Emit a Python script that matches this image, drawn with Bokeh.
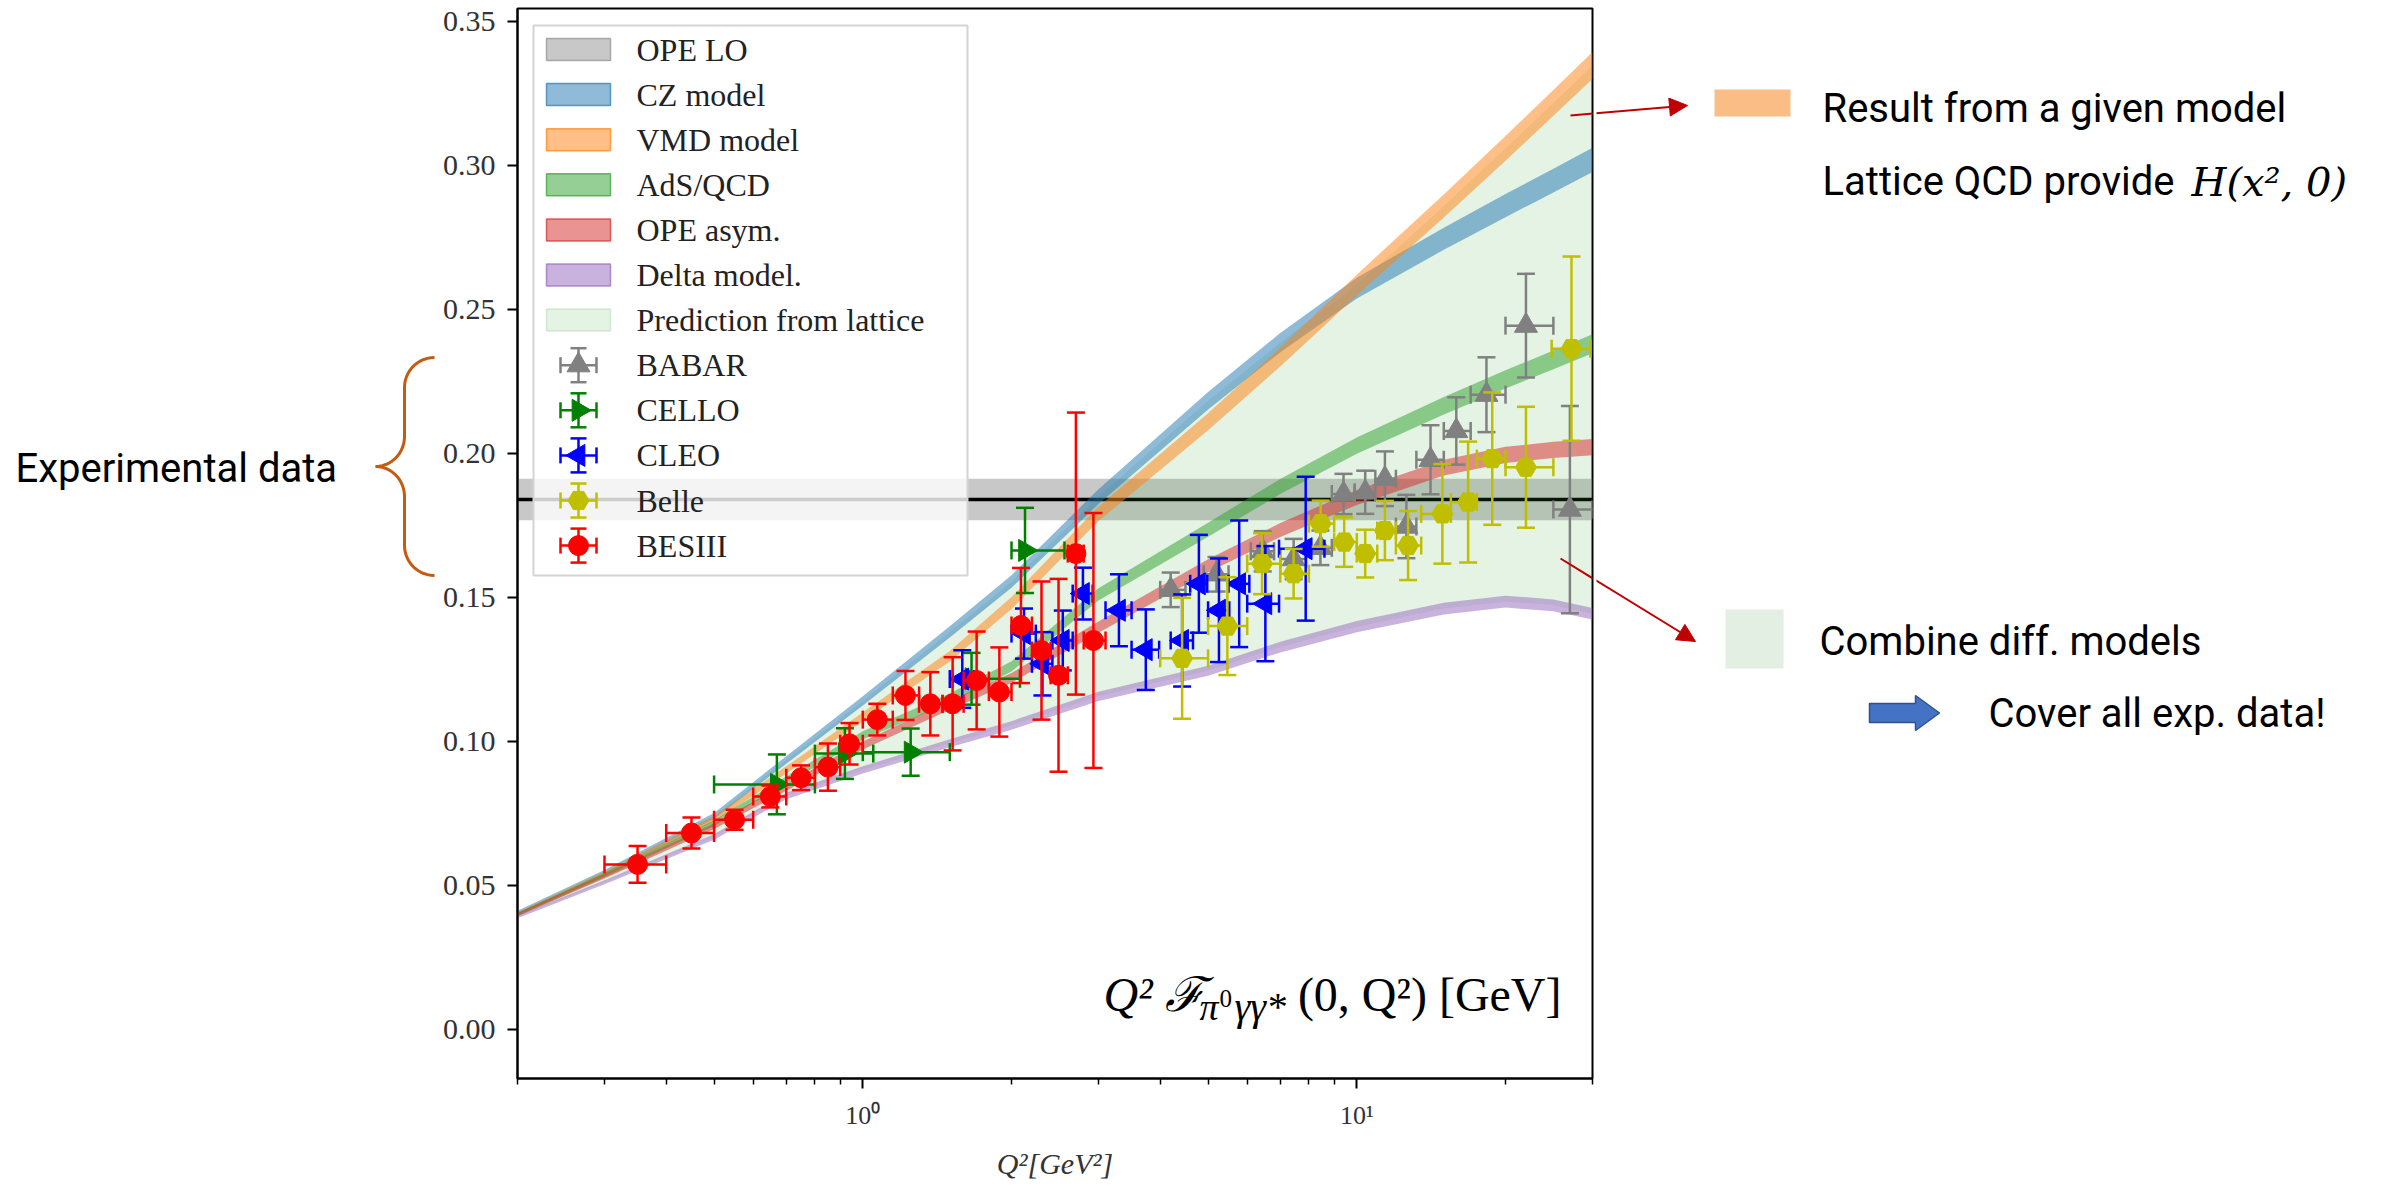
import numpy as np
from bokeh.plotting import figure
from bokeh.layouts import row
from bokeh.models import (Range1d, LinearScale, FixedTicker, NumeralTickFormatter,
                          Arrow, NormalHead, BoxAnnotation, Span)
from bokeh.core.properties import value
from bokeh.embed import file_html
from bokeh.resources import INLINE

# ------------------------------------------------------------------ data
q2_grid     = [0.2, 0.3, 0.5, 0.7, 1.0, 1.5, 2.0, 3.0, 5.0, 7.0, 10.0, 15.0, 20.0, 25.0, 30.0]
cz_model    = [0.0405, 0.0545, 0.0740, 0.0935, 0.1140, 0.1380, 0.1555, 0.1850, 0.2183, 0.2385, 0.2574, 0.2746, 0.2861, 0.2948, 0.3020]
vmd_model   = [0.0400, 0.0540, 0.0730, 0.0900, 0.1085, 0.1295, 0.1480, 0.1790, 0.2110, 0.2335, 0.2585, 0.2860, 0.3060, 0.3218, 0.3348]
ads_qcd     = [0.0398, 0.0535, 0.0715, 0.0865, 0.1020, 0.1150, 0.1260, 0.1510, 0.1735, 0.1885, 0.2027, 0.2166, 0.2257, 0.2325, 0.2381]
ope_asym    = [0.0397, 0.0530, 0.0705, 0.0840, 0.0985, 0.1125, 0.1220, 0.1396, 0.1610, 0.1734, 0.1847, 0.1951, 0.1995, 0.2012, 0.2022]
delta_model = [0.0390, 0.0510, 0.0667, 0.0810, 0.0900, 0.0993, 0.1055, 0.1156, 0.1245, 0.1327, 0.1398, 0.1461, 0.1485, 0.1472, 0.1443]

ope_lo_value = 0.184
ope_lo_err   = 0.0072

babar_q2  = [4.2, 5.2, 6.45, 7.45, 8.44, 9.4, 10.4, 11.4, 12.6, 14.1, 15.9, 18.3, 22.0, 27.0]
babar_val = [0.1526, 0.1580, 0.1660, 0.1633, 0.1672, 0.1859, 0.1865, 0.1912, 0.1746, 0.1978, 0.2078, 0.2204, 0.2444, 0.1805]
babar_err = [0.0060, 0.0060, 0.0070, 0.0070, 0.0060, 0.0070, 0.0075, 0.0095, 0.0110, 0.0120, 0.0117, 0.0130, 0.0180, 0.0360]
babar_lo  = [4.0, 4.9, 6.1, 7.0, 8.0, 8.9, 9.9, 10.9, 12.0, 13.2, 15.0, 17.0, 20.0, 25.0]
babar_hi  = [4.5, 5.5, 6.8, 7.9, 8.9, 9.9, 10.9, 12.0, 13.2, 15.0, 17.0, 20.0, 25.0, 30.0]

cello_q2  = [0.67, 0.92, 1.25, 1.66, 2.13]
cello_val = [0.0850, 0.0957, 0.0962, 0.1217, 0.1663]
cello_err = [0.0104, 0.0088, 0.0082, 0.0090, 0.0148]
cello_lo  = [0.50, 0.80, 1.00, 1.52, 2.00]
cello_hi  = [0.80, 1.05, 1.50, 2.08, 2.56]

cleo_q2  = [1.59, 2.12, 2.31, 2.54, 2.79, 3.30, 3.74, 4.43, 4.79, 5.26, 5.78, 6.53, 7.88]
cleo_val = [0.1216, 0.1374, 0.1269, 0.1350, 0.1513, 0.1455, 0.1318, 0.1350, 0.1547, 0.1455, 0.1547, 0.1478, 0.1669]
cleo_err = [0.0100, 0.0087, 0.0110, 0.0104, 0.0090, 0.0125, 0.0140, 0.0160, 0.0170, 0.0180, 0.0220, 0.0200, 0.0250]
cleo_lo  = [1.50, 2.00, 2.20, 2.42, 2.66, 3.10, 3.50, 4.20, 4.60, 5.00, 5.50, 6.00, 6.96]
cleo_hi  = [1.68, 2.24, 2.42, 2.66, 2.92, 3.50, 3.98, 4.66, 4.98, 5.52, 6.06, 6.96, 8.60]

belle_q2  = [4.43, 5.47, 6.43, 7.45, 8.45, 9.43, 10.4, 11.4, 12.7, 14.9, 16.8, 18.8, 22.0, 27.2]
belle_val = [0.1288, 0.1400, 0.1617, 0.1582, 0.1756, 0.1692, 0.1652, 0.1732, 0.1680, 0.1790, 0.1831, 0.1982, 0.1952, 0.2364]
belle_err = [0.0210, 0.0170, 0.0106, 0.0086, 0.0080, 0.0086, 0.0083, 0.0103, 0.0120, 0.0173, 0.0210, 0.0230, 0.0210, 0.0320]
belle_lo  = [4.0, 5.0, 6.0, 7.0, 8.0, 9.0, 10.0, 11.0, 12.0, 13.5, 15.5, 17.5, 20.0, 24.8]
belle_hi  = [5.0, 6.0, 7.0, 8.0, 9.0, 10.0, 11.0, 12.0, 13.5, 15.5, 17.5, 20.0, 25.0, 29.7]

besiii_q2  = [0.35, 0.45, 0.55, 0.65, 0.75, 0.85, 0.94, 1.07, 1.22, 1.37, 1.52, 1.70, 1.89, 2.09, 2.30, 2.49, 2.70, 2.93]
besiii_val = [0.0572, 0.0681, 0.0727, 0.0808, 0.0873, 0.0910, 0.0991, 0.1075, 0.1159, 0.1130, 0.1130, 0.1211, 0.1171, 0.1402, 0.1315, 0.1229, 0.1652, 0.1350]
besiii_err = [0.0064, 0.0054, 0.0035, 0.0038, 0.0043, 0.0082, 0.0072, 0.0055, 0.0085, 0.0110, 0.0162, 0.0170, 0.0155, 0.0200, 0.0240, 0.0335, 0.0490, 0.0443]
besiii_lo  = [0.30, 0.40, 0.50, 0.60, 0.70, 0.80, 0.90, 1.00, 1.15, 1.30, 1.45, 1.60, 1.80, 2.00, 2.20, 2.40, 2.60, 2.80]
besiii_hi  = [0.40, 0.50, 0.60, 0.70, 0.80, 0.90, 1.00, 1.15, 1.30, 1.45, 1.60, 1.80, 2.00, 2.20, 2.40, 2.60, 2.80, 3.10]

y_ticks        = [0.00, 0.05, 0.10, 0.15, 0.20, 0.25, 0.30, 0.35]
x_major_ticks  = [1, 10]
x_major_labels = ["10\u2070", "10\u00b9"]
x_minor_ticks  = [0.2, 0.3, 0.4, 0.5, 0.6, 0.7, 0.8, 0.9, 2, 3, 4, 5, 6, 7, 8, 9, 20, 30]

legend_labels = ["OPE LO", "CZ model", "VMD model", "AdS/QCD", "OPE asym.", "Delta model.",
                 "Prediction from lattice", "BABAR", "CELLO", "CLEO", "Belle", "BESIII"]

# ------------------------------------------------------------------ styles / layout
model_colors = ["#1f77b4", "#ff7f0e", "#2ca02c", "#d62728", "#9467bd"]
BAND = 0.014
exp_styles = [  # color, marker, size, angle
    ("#808080", "triangle", 23, 0.0),
    ("#008000", "triangle", 22, -np.pi / 2),
    ("#0000ff", "triangle", 22, np.pi / 2),
    ("#bfbf00", "hex", 21, 0.0),
    ("#ff0000", "circle", 20, 0.0),
]
SERIF = "Liberation Serif"
SANS = "Roboto"
RED = "#c00000"

H = 1186
W_L, W_M, W_R = 438, 1158, 786
FL, FR, FT, FB = 517, 1592, 8, 1078          # main frame edges (page px)

# ------------------------------------------------------------------ main plot
pm = figure(width=W_M, height=H, x_axis_type="log",
            x_range=Range1d(0.2, 30), y_range=Range1d(-0.0172, 0.3546),
            output_backend="svg", toolbar_location=None,
            min_border_left=FL - W_L, min_border_right=W_L + W_M - FR,
            min_border_top=FT, min_border_bottom=H - FB)
pm.extra_x_ranges = {"px": Range1d(FL, FR)}
pm.extra_y_ranges = {"py": Range1d(FB, FT)}
pm.extra_x_scales = {"px": LinearScale()}
pm.extra_y_scales = {"py": LinearScale()}
PX = dict(x_range_name="px", y_range_name="py")

pm.xgrid.visible = False
pm.ygrid.visible = False
pm.outline_line_color = "black"
pm.outline_line_width = 2
pm.outline_line_alpha = 1.0

pm.yaxis.ticker = FixedTicker(ticks=y_ticks)
pm.yaxis.formatter = NumeralTickFormatter(format="0.00")
pm.xaxis.ticker = FixedTicker(ticks=x_major_ticks, minor_ticks=x_minor_ticks)
pm.xaxis.major_label_overrides = dict(zip(x_major_ticks, x_major_labels))
for ax in (pm.xaxis[0], pm.yaxis[0]):
    ax.axis_line_color = "black"
    ax.axis_line_width = 2
    ax.major_tick_line_color = "black"
    ax.major_tick_line_width = 2
    ax.major_tick_in = 0
    ax.major_tick_out = 10
    ax.minor_tick_in = 0
    ax.minor_tick_out = 6
    ax.minor_tick_line_width = 1.5
    ax.minor_tick_line_color = "black"
    ax.major_label_text_font = SERIF
    ax.major_label_text_color = "#333333"
pm.yaxis.minor_tick_line_color = None
pm.yaxis.major_label_text_font_size = "30px"
pm.yaxis.major_label_standoff = 12
pm.xaxis.major_label_text_font_size = "26px"
pm.xaxis.major_label_standoff = 12
pm.xaxis.axis_label = "Q\u00b2[GeV\u00b2]"
pm.xaxis.axis_label_text_font = SERIF
pm.xaxis.axis_label_text_font_style = "italic"
pm.xaxis.axis_label_text_font_size = "30px"
pm.xaxis.axis_label_text_color = "#333333"
pm.xaxis.axis_label_standoff = 14

# OPE LO band + central line
pm.add_layout(BoxAnnotation(bottom=ope_lo_value - ope_lo_err, top=ope_lo_value + ope_lo_err,
                            fill_color="#808080", fill_alpha=0.43, line_alpha=0, level="underlay"))
pm.add_layout(Span(location=ope_lo_value, dimension="width", line_color="black",
                   line_width=3.5, level="underlay"))

# lattice prediction envelope and model bands
models = [cz_model, vmd_model, ads_qcd, ope_asym, delta_model]
env_top = np.max(np.array(models), axis=0)
env_bot = np.min(np.array(models), axis=0)
pm.varea(x=q2_grid, y1=env_bot, y2=env_top, fill_color="#2ca02c", fill_alpha=0.13)
for vals, col in zip(models, model_colors):
    v = np.array(vals)
    pm.varea(x=q2_grid, y1=v * (1 - BAND), y2=v * (1 + BAND), fill_color=col, fill_alpha=0.5)

# experiments
experiments = [
    (babar_q2, babar_val, babar_err, babar_lo, babar_hi),
    (cello_q2, cello_val, cello_err, cello_lo, cello_hi),
    (cleo_q2, cleo_val, cleo_err, cleo_lo, cleo_hi),
    (belle_q2, belle_val, belle_err, belle_lo, belle_hi),
    (besiii_q2, besiii_val, besiii_err, besiii_lo, besiii_hi),
]
for (q2, val, err, lo, hi), (col, mk, sz, ang) in zip(experiments, exp_styles):
    q2 = np.array(q2); val = np.array(val); err = np.array(err)
    lo = np.array(lo); hi = np.array(hi)
    pm.segment(x0=q2, y0=val - err, x1=q2, y1=val + err, line_color=col, line_width=2.5)
    pm.segment(x0=lo, y0=val, x1=hi, y1=val, line_color=col, line_width=2.5)
    pm.scatter(x=np.concatenate([q2, q2]), y=np.concatenate([val - err, val + err]),
               marker="dash", size=18, line_color=col, line_width=2.5)
    pm.scatter(x=np.concatenate([lo, hi]), y=np.concatenate([val, val]),
               marker="dash", angle=np.pi / 2, size=18, line_color=col, line_width=2.5)
    pm.scatter(x=q2, y=val, marker=mk, angle=ang, size=sz, fill_color=col, line_color=col)

# legend, drawn in page-pixel space inside the frame
LEG = dict(level="annotation", **PX)
pm.quad(left=[533], right=[967], top=[25], bottom=[575], fill_color="white", fill_alpha=0.8,
        line_color="#d4d4d4", line_width=2, **LEG)
row_y = [49 + 45.1 * i for i in range(len(legend_labels))]
patch_cols = ["#808080"] + model_colors + ["#2ca02c"]
patch_alpha = [0.43, 0.5, 0.5, 0.5, 0.5, 0.5, 0.13]
for i, (c, a) in enumerate(zip(patch_cols, patch_alpha)):
    cy = row_y[i]
    pm.quad(left=[546], right=[610], top=[cy - 11], bottom=[cy + 11], fill_color=c, fill_alpha=a,
            line_color=c, line_alpha=min(1.0, a * 1.4), line_width=1.5, **LEG)
for j, (col, mk, sz, ang) in enumerate(exp_styles):
    cy = row_y[7 + j]
    pm.segment(x0=[578], y0=[cy - 17], x1=[578], y1=[cy + 17], line_color=col, line_width=2.5, **LEG)
    pm.segment(x0=[560], y0=[cy], x1=[596], y1=[cy], line_color=col, line_width=2.5, **LEG)
    pm.scatter(x=[578, 578], y=[cy - 17, cy + 17], marker="dash", size=16, line_color=col, line_width=2.5, **LEG)
    pm.scatter(x=[560, 596], y=[cy, cy], marker="dash", angle=np.pi / 2, size=16, line_color=col, line_width=2.5, **LEG)
    pm.scatter(x=[578], y=[cy], marker=mk, angle=ang, size=sz, fill_color=col, line_color=col, **LEG)
pm.text(x=[636] * len(legend_labels), y=row_y, text=legend_labels, text_font=value(SERIF),
        text_font_size="32px", text_baseline="middle", text_color="#222222", **LEG)


def lab(fig, x, y, text, size, font=SERIF, style="normal", align="left", color="black", **kw):
    fig.text(x=[x], y=[y], text=[text], text_font=value(font), text_font_size=size,
             text_font_style=style, text_align=align, text_baseline="middle",
             text_color=color, level="annotation", **kw)

# quantity label inside the frame (y = visual middle of each text run)
lab(pm, 1103, 994, "Q\u00b2 \u2131", "48px", style="italic", **PX)
lab(pm, 1199, 1006, "\u03c0", "38px", style="italic", **PX)
lab(pm, 1219, 998, "0", "25px", **PX)
lab(pm, 1234, 1006, "\u03b3\u03b3*", "40px", style="italic", **PX)
lab(pm, 1561, 994, "(0, Q\u00b2) [GeV]", "48px", align="right", **PX)

# start of the two pointer arrows (inside the frame)
pm.segment(x0=[1570, 1560], y0=[115, 558], x1=[1687, 1695], y1=[105, 641],
           line_color=RED, line_width=2, **PX)

# ------------------------------------------------------------------ side panels
def side_panel(width, x0):
    f = figure(width=width, height=H, x_range=Range1d(x0, x0 + width),
               output_backend="svg", toolbar_location=None, min_border=0,
               x_axis_location=None, y_axis_location=None)
    try:
        f.frame_align = False
        f.y_range = Range1d(H, 0)
    except Exception:
        f.y_range = Range1d(FB, FT)
    f.xgrid.visible = False
    f.ygrid.visible = False
    f.outline_line_color = None
    return f

pl = side_panel(W_L, 0)
pr = side_panel(W_R, W_L + W_M)

# left: experimental data brace
lab(pl, 15, 468, "Experimental data", "40px", font=SANS)
x_tip, x_end, y_top, y_mid, y_bot, r = 375, 434, 357, 466, 575, 30
rx = x_end - r - x_tip
t1 = np.linspace(np.pi / 2, np.pi, 14)
t2 = np.linspace(0, np.pi / 2, 14)
bx = list(x_end + r * np.cos(t1)) + list(x_tip + rx * np.cos(t2)) + \
     list(x_tip + rx * np.cos(t2[::-1])) + list(x_end + r * np.cos(t1[::-1]))
by = list(y_top + r - r * np.sin(t1)) + list(y_mid - r + r * np.sin(t2)) + \
     list(y_mid + r - r * np.sin(t2[::-1])) + list(y_bot - r + r * np.sin(t1[::-1]))
pl.line(x=bx, y=by, line_color="#c55a11", line_width=3)

# right: explanations
pr.quad(left=[1714], right=[1790], top=[89], bottom=[116], fill_color="#f9bd85", line_alpha=0)
lab(pr, 1822, 108, "Result from a given model", "40px", font=SANS)
lab(pr, 1822, 181, "Lattice QCD provide", "40px", font=SANS)
lab(pr, 2191, 181, "H(x\u00b2, 0)", "40px", font="DejaVu Serif", style="italic")
pr.add_layout(Arrow(x_start=1570, y_start=115, x_end=1687, y_end=105, line_color=RED, line_width=2,
                    end=NormalHead(size=18, fill_color=RED, line_color=RED)))
pr.add_layout(Arrow(x_start=1560, y_start=558, x_end=1695, y_end=641, line_color=RED, line_width=2,
                    end=NormalHead(size=18, fill_color=RED, line_color=RED)))
pr.quad(left=[1725], right=[1783], top=[609], bottom=[668], fill_color="#e2efe2", line_alpha=0)
lab(pr, 1819, 641, "Combine diff. models", "40px", font=SANS)
pr.patch(x=[1869, 1915, 1915, 1939, 1915, 1915, 1869],
         y=[703, 703, 695, 712.5, 730, 722, 722],
         fill_color="#4472c4", line_color="#2f528f", line_width=1.5)
lab(pr, 1988, 713, "Cover all exp. data!", "40px", font=SANS)

layout = row(pl, pm, pr)
open("out.html", "w").write(file_html(layout, INLINE))
